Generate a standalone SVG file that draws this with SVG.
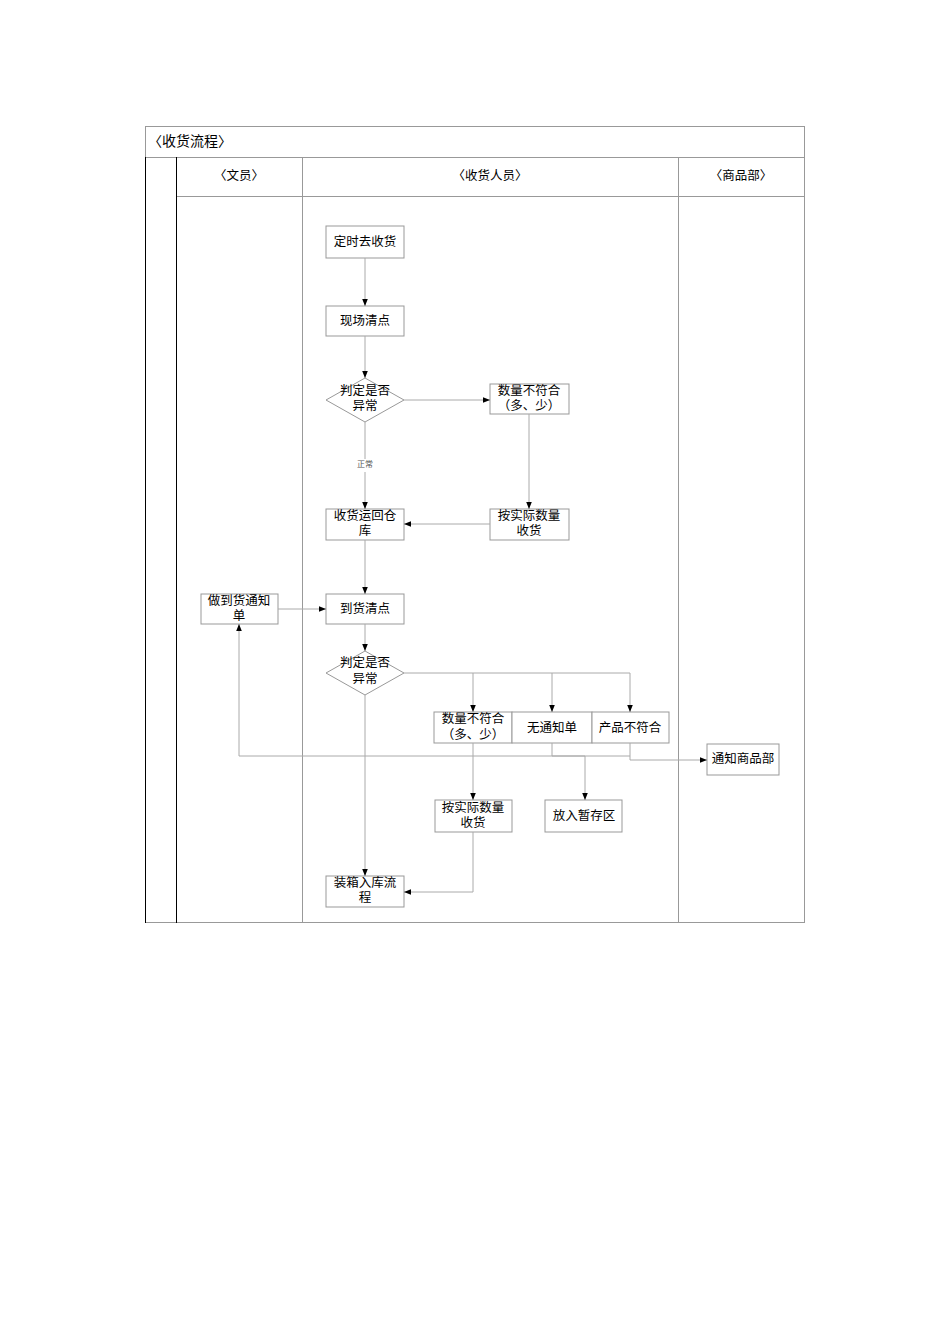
<svg xmlns="http://www.w3.org/2000/svg" width="950" height="1344" viewBox="0 0 950 1344">
<style>
text{font-family:"Liberation Sans","Noto Sans CJK SC",sans-serif;font-size:12.5px;fill:#000;text-anchor:middle}
.b{fill:#fff;stroke:#999;stroke-width:1}
.l{fill:none;stroke:#aaa;stroke-width:1}
.g{fill:none;stroke:#999;stroke-width:1}
</style>
<defs><marker id="a" viewBox="0 0 10 10" refX="10" refY="5" markerWidth="7" markerHeight="7" orient="auto"><path d="M0,1 L10,5 L0,9 z" fill="#000"/></marker></defs>
<rect width="950" height="1344" fill="#fff"/>
<g id="frame">
<rect x="145.5" y="126.5" width="659" height="796" class="g"/>
<line x1="145" y1="157.5" x2="805" y2="157.5" class="g"/>
<line x1="176" y1="196.5" x2="805" y2="196.5" class="g"/>
<line x1="176.5" y1="157" x2="176.5" y2="923" stroke="#000"/>
<line x1="145.5" y1="157" x2="145.5" y2="923" stroke="#000"/>
<line x1="302.5" y1="157" x2="302.5" y2="923" class="g"/>
<line x1="678.5" y1="157" x2="678.5" y2="923" class="g"/>
<text x="148" y="146" style="text-anchor:start;font-size:14px">〈收货流程〉</text>
<text x="239" y="180">〈文员〉</text>
<text x="490" y="180">〈收货人员〉</text>
<text x="741" y="180">〈商品部〉</text>
</g>
<text x="365" y="467" style="font-size:8px;fill:#555">正常</text>
<g id="n1"><rect class="b" x="326" y="226" width="78" height="32"/><text x="365" y="246">定时去收货</text></g>
<g id="n2"><rect class="b" x="326" y="306" width="78" height="30"/><text x="365" y="325">现场清点</text></g>
<g id="n3"><path class="b" d="M365,378L404,400L365,422L326,400Z"/><text x="365" y="395">判定是否</text><text x="365" y="410">异常</text></g>
<g id="n4"><rect class="b" x="490" y="384" width="79" height="30"/><text x="529" y="395">数量不符合</text><text x="529" y="410">（多、少）</text></g>
<g id="n5"><rect class="b" x="326" y="509" width="78" height="31"/><text x="365" y="520">收货运回仓</text><text x="365" y="535">库</text></g>
<g id="n6"><rect class="b" x="490" y="509" width="79" height="31"/><text x="529" y="520">按实际数量</text><text x="529" y="535">收货</text></g>
<g id="n7"><rect class="b" x="201" y="594" width="77" height="30"/><text x="239" y="605">做到货通知</text><text x="239" y="620">单</text></g>
<g id="n8"><rect class="b" x="326" y="594" width="78" height="30"/><text x="365" y="613">到货清点</text></g>
<g id="n9"><path class="b" d="M365,651L404,673L365,695L326,673Z"/><text x="365" y="667">判定是否</text><text x="365" y="683">异常</text></g>
<g id="n10"><rect class="b" x="434" y="712" width="78" height="31"/><text x="473" y="723">数量不符合</text><text x="473" y="739">（多、少）</text></g>
<g id="n11"><rect class="b" x="512" y="712" width="80" height="31"/><text x="552" y="732">无通知单</text></g>
<g id="n12"><rect class="b" x="592" y="712" width="77" height="31"/><text x="630" y="732">产品不符合</text></g>
<g id="n13"><rect class="b" x="707" y="744" width="72" height="31"/><text x="743" y="763">通知商品部</text></g>
<g id="n14"><rect class="b" x="435" y="800" width="77" height="32"/><text x="473" y="812">按实际数量</text><text x="473" y="827">收货</text></g>
<g id="n15"><rect class="b" x="545" y="800" width="77" height="32"/><text x="584" y="820">放入暂存区</text></g>
<g id="n16"><rect class="b" x="326" y="876" width="78" height="31"/><text x="365" y="887">装箱入库流</text><text x="365" y="902">程</text></g>
<g id="connectors" marker-end="url(#a)">
<path class="l" d="M365,258V306"/>
<path class="l" d="M365,336V378"/>
<path class="l" d="M404,400H490"/>
<path class="l" d="M365,422V459M365,472V509"/>
<path class="l" d="M529,414V509"/>
<path class="l" d="M490,524H404"/>
<path class="l" d="M365,540V594"/>
<path class="l" d="M278,609H326"/>
<path class="l" d="M365,624V651"/>
<path class="l" d="M365,695V876"/>
<path class="l" d="M404,673H473V712"/>
<path class="l" d="M473,673H552V712"/>
<path class="l" d="M552,673H630V712"/>
<path class="l" d="M473,743V800"/>
<path class="l" d="M473,832V892H404"/>
<path class="l" d="M630,743V760H707"/>
<path class="l" d="M552,743V756H585V800"/>
<path class="l" d="M630,756H239V624"/>
</g>
</svg>
